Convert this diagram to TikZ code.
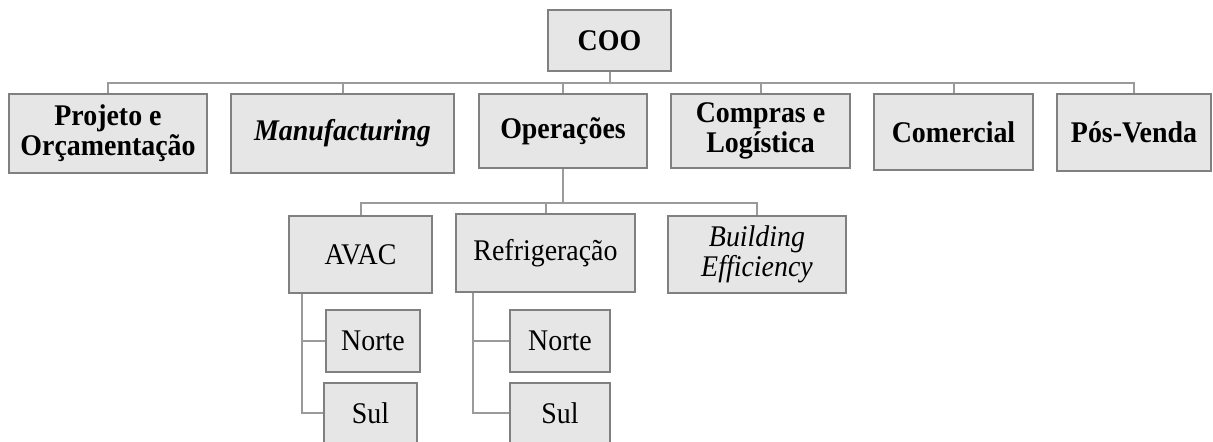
\documentclass[tikz,border=0pt]{standalone}
\usepackage{fontspec}
\setmainfont{Liberation Serif}[FakeStretch=0.93]
\definecolor{boxfill}{HTML}{E6E6E6}
\definecolor{boxline}{HTML}{808080}
\definecolor{linkline}{HTML}{9A9A9A}
\tikzset{
  unit/.style={draw=boxline, fill=boxfill, line width=1.2pt, inner sep=0pt,
    align=center, font=\fontsize{15}{15}\selectfont},
  head/.style={unit, font=\fontsize{15}{15}\selectfont\bfseries},
  link/.style={draw=linkline, line width=1pt}
}
\begin{document}
\begin{tikzpicture}[x=0.5pt,y=-0.5pt]
      \useasboundingbox (0,0) rectangle (1213,441);
      \draw
        (609.5,40.5) node[head, minimum width=61.5pt, minimum height=30.5pt] (coo){COO}
        (108,133.5) node[head, minimum width=99pt, minimum height=39.5pt] (proj){Projeto e\\Orçamentação}
        (342.5,133.5) node[head, minimum width=111.5pt, minimum height=39.5pt] (manuf){\itshape Manufacturing}
        (563,131) node[head, minimum width=84pt, minimum height=37pt] (oper){Operações}
        (760.5,131) node[head, minimum width=89.5pt, minimum height=37pt] (compras){Compras e\\Logística}
        (953.5,132) node[head, minimum width=79.5pt, minimum height=38pt] (comercial){Comercial}
        (1134,132.5) node[head, minimum width=77pt, minimum height=38.5pt] (posvenda){Pós-Venda}
        (360.5,254.5) node[unit, minimum width=71.5pt, minimum height=38.5pt] (avac){AVAC}
        (545.5,253) node[unit, minimum width=89.5pt, minimum height=39pt] (refrig){Refrigeração}
        (757,254.5) node[unit, minimum width=89pt, minimum height=38.5pt] (build){\itshape Building\\\itshape Efficiency}
        (373,341) node[unit, minimum width=47pt, minimum height=31pt] (avacnorte){Norte}
        (370.5,413) node[unit, minimum width=46.5pt, minimum height=30pt] (avacsul){Sul}
        (560,341) node[unit, minimum width=50pt, minimum height=31pt] (refrignorte){Norte}
        (560,413) node[unit, minimum width=50pt, minimum height=30pt] (refrigsul){Sul};
      \begin{scope}[link]
        \draw (coo.south) -- ++(0,11) coordinate (hub);
        \draw (hub) -| (proj.north);
        \draw (hub) -| (manuf.north);
        \draw (hub) -| (oper.north);
        \draw (hub) -| (compras.north);
        \draw (hub) -| (comercial.north);
        \draw (hub) -| (posvenda.north);
        \draw (oper.south) -- ++(0,34) coordinate (subhub);
        \draw (subhub) -| (avac.north);
        \draw (subhub) -| (refrig.north);
        \draw (subhub) -| (build.north);
        \draw ([xshift=7pt]avac.south west) |- (avacnorte.west);
        \draw ([xshift=7pt]avac.south west) |- (avacsul.west);
        \draw ([xshift=9pt]refrig.south west) |- (refrignorte.west);
        \draw ([xshift=9pt]refrig.south west) |- (refrigsul.west);
      \end{scope}
    \end{tikzpicture}
\end{document}
